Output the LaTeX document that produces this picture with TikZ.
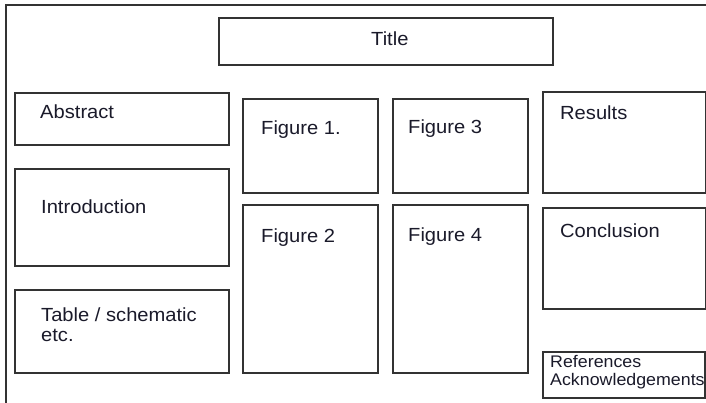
\documentclass[tikz,border=0pt]{standalone}
\usepackage{fontspec}
\setmainfont{Liberation Sans}[FakeStretch=1.06]
\definecolor{edge}{HTML}{333333}
\definecolor{ink}{HTML}{1A1A2A}
\begin{document}
\begin{tikzpicture}[x=1pt,y=-1pt,
  box/.style={draw=edge,line width=1.8pt,inner sep=0pt,anchor=north west,fill=white},
  lab/.style={anchor=base west,inner sep=0pt,text=ink,font=\fontsize{19}{20}\selectfont,align=left},
  smalllab/.style={anchor=base west,inner sep=0pt,text=ink,font=\fontsize{16.8}{18}\selectfont,align=left}]
\useasboundingbox (0,0) rectangle (706,402);
\fill[white] (0,0) rectangle (706,402);
% outer frame
\draw[edge,line width=1.8pt] (6,410) -- (6,5) -- (712,5);
% boxes
\node[box,minimum width=334pt,minimum height=47pt] (title) at (218,17) {};
\node[box,minimum width=214pt,minimum height=52pt] (abs) at (14,92) {};
\node[box,minimum width=214pt,minimum height=97pt] (intro) at (14,168) {};
\node[box,minimum width=214pt,minimum height=83pt] (tab) at (14,289) {};
\node[box,minimum width=135pt,minimum height=94pt] (fig1) at (242,98) {};
\node[box,minimum width=135pt,minimum height=168pt] (fig2) at (242,204) {};
\node[box,minimum width=135pt,minimum height=94pt] (fig3) at (392,98) {};
\node[box,minimum width=135pt,minimum height=168pt] (fig4) at (392,204) {};
\node[box,minimum width=163pt,minimum height=101pt] (res) at (542,91) {};
\node[box,minimum width=163pt,minimum height=101pt] (conc) at (542,207) {};
\node[box,minimum width=162pt,minimum height=46pt] (refs) at (542,351) {};
% texts
\node[lab] (ttitle) at (371,45) {Title};
\node[lab] (tabs) at (40,118) {Abstract};
\node[lab] (tintro) at (41,213) {Introduction};
\node[lab] (ttab) at (41,341) {Table / schematic\\etc.};
\node[lab] (tfig1) at (261,134) {Figure 1.};
\node[lab] (tfig2) at (261,242) {Figure 2};
\node[lab] (tfig3) at (408,133) {Figure 3};
\node[lab] (tfig4) at (408,241) {Figure 4};
\node[lab] (tres) at (560,119) {Results};
\node[lab] (tconc) at (560,237) {Conclusion};
\node[smalllab] (trefs) at (550,385) {References\\Acknowledgements};
\end{tikzpicture}
\end{document}
